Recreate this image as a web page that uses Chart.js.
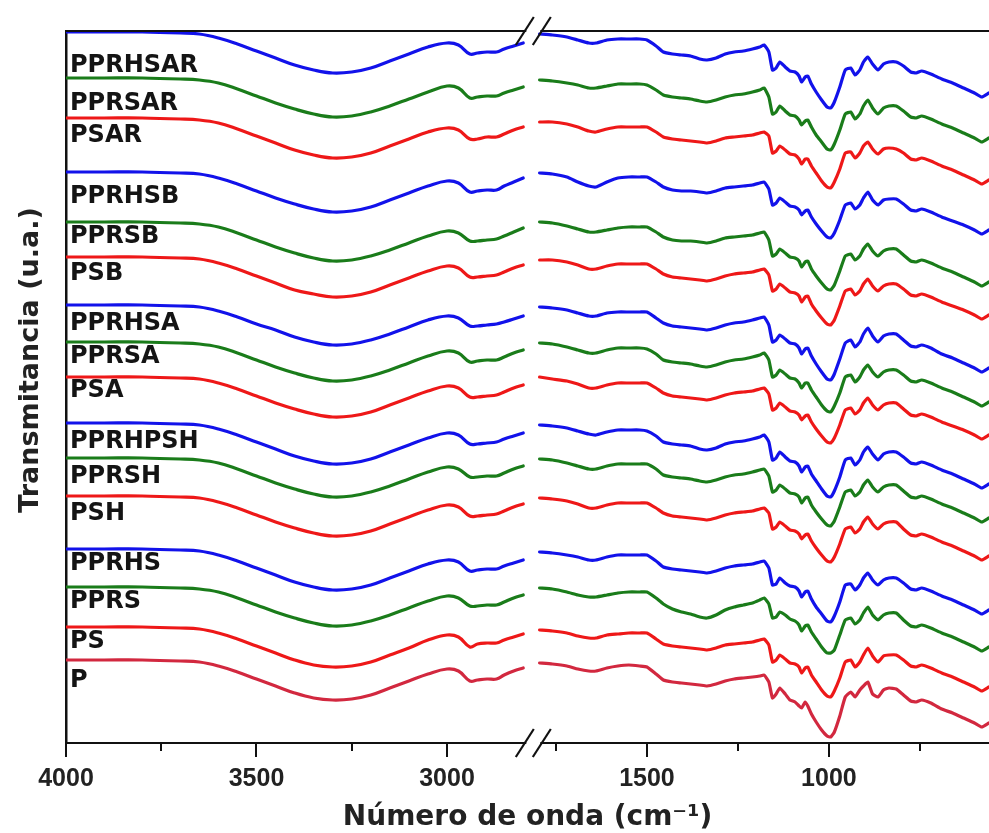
<!DOCTYPE html>
<html>
<head>
<meta charset="utf-8">
<title>Espectros FTIR</title>
<script src="https://cdn.jsdelivr.net/npm/chart.js@4.4.1/dist/chart.umd.min.js"></script>
<style>
  html, body { margin: 0; padding: 0; background: #fff; }
  #wrap { position: relative; width: 989px; height: 833px; }
</style>
</head>
<body>
<div id="wrap"><canvas id="c" width="989" height="833"></canvas></div>
<script>
// Wavenumbers (cm-1) of the two recorded windows
const waveLeft = [4000,3900,3800,3700,3650,3600,3550,3500,3450,3400,3350,3300,3250,3200,3150,3100,3050,3000,2970,2940,2920,2895,2870,2850,2825,2800];
const waveRight = [1795,1760,1720,1690,1660,1640,1610,1580,1550,1520,1500,1475,1455,1430,1405,1380,1355,1335,1310,1285,1260,1235,1210,1190,1178,1165,1155,1145,1135,1120,1107,1093,1082,1075,1065,1058,1048,1035,1020,1005,995,985,970,955,940,928,915,905,893,880,865,850,835,815,795,775,760,745,720,690,660,630,600,580,560];

// Transmittance (a.u.) of each sample: left window followed by right window
const PPRHSAR = [100,100,100,99,98,94,88,81,74,67,62,59,60,64,71,78,85,89,87,78,79,80,80,83,86,89,
  98,97,95,92,89,89,92,93,93,93,92,86,80,78,77,76,73,72,74,78,80,81,83,85,87,80,62,64,70,65,61,60,56,50,55,56,48,40,32,25,24,30,45,62,64,57,62,70,75,68,62,68,70,70,66,60,59,61,58,53,49,44,39,35,39];
const PPRSAR = [100,100,100,99,98,95,89,82,75,69,64,61,62,66,72,79,86,92,90,80,81,82,82,85,88,91,
  98,97,95,93,90,90,92,94,94,94,93,88,83,81,80,79,77,76,78,81,83,84,86,88,90,81,64,66,72,67,63,62,58,53,57,58,51,43,36,29,28,34,48,64,66,59,64,72,78,70,64,70,72,72,67,61,60,62,59,54,50,45,40,36,40];
const PSAR = [100,100,100,99,98,95,89,82,75,68,63,60,61,65,72,79,86,90,88,79,79,81,81,84,88,91,
  96,96,94,91,87,86,89,91,91,91,91,86,81,79,78,77,76,75,77,80,81,82,83,85,86,82,65,67,72,68,64,63,59,54,59,59,52,45,37,31,30,36,49,65,66,60,65,72,76,69,64,69,70,69,65,59,58,60,57,52,48,43,38,34,38];
const PPRHSB = [100,100,100,99,98,94,88,81,74,68,63,60,61,65,72,79,86,91,89,80,81,82,82,86,90,94,
  99,98,95,90,86,85,90,94,95,95,95,90,85,82,81,81,80,79,81,84,85,86,87,89,90,83,67,69,74,70,66,65,62,57,61,62,55,48,41,35,34,39,52,67,69,63,67,74,80,72,67,72,73,73,68,62,61,63,60,55,51,47,42,38,42];
const PPRSB = [100,100,100,99,98,95,89,82,75,69,64,61,62,66,72,79,86,91,89,81,81,82,83,86,90,94,
  100,99,96,93,90,90,92,94,95,95,95,90,85,82,81,81,80,79,81,84,85,86,87,89,90,82,66,68,73,69,65,64,61,55,60,61,53,46,39,33,32,37,51,66,68,62,66,73,78,71,66,71,73,73,67,61,60,62,59,54,50,45,40,36,40];
const PSB = [100,100,100,99,98,94,88,81,74,67,63,60,61,65,72,79,86,91,89,80,80,81,82,85,89,92,
  97,97,95,92,88,88,91,93,93,93,93,88,83,80,79,78,77,76,78,81,83,84,85,87,88,82,66,68,73,69,65,64,61,55,60,61,53,46,39,33,32,37,51,66,68,62,66,73,78,71,66,71,73,73,68,62,61,63,60,55,51,47,42,38,42];
const PPRHSA = [100,100,100,99,98,94,88,81,75,68,63,60,61,65,71,78,85,89,87,79,79,80,81,83,86,89,
  98,97,95,92,89,89,92,93,93,93,93,87,82,79,78,77,76,75,77,80,82,83,85,87,88,80,63,65,70,66,62,61,57,51,56,57,49,41,33,26,25,31,46,62,65,58,63,71,77,69,63,69,71,71,65,59,58,60,57,51,47,42,37,33,37];
const PPRSA = [100,100,100,99,98,95,89,82,75,69,64,61,62,66,72,79,86,91,89,80,81,82,82,85,89,92,
  99,98,95,92,89,89,92,94,94,94,93,88,82,80,79,78,76,75,77,80,82,83,85,87,89,82,65,67,72,68,64,63,59,54,59,59,52,45,37,31,30,36,49,65,67,60,65,72,77,70,65,70,72,72,67,61,60,62,59,54,50,45,40,36,40];
const PSA = [100,100,100,99,98,94,88,81,74,68,63,60,61,65,72,79,86,91,89,80,80,81,82,85,89,92,
  100,98,96,93,89,89,92,94,94,94,94,89,84,81,80,79,78,77,79,82,84,85,86,88,89,83,67,69,74,70,66,65,62,57,61,62,55,48,41,35,34,39,52,67,69,63,67,74,79,72,67,72,74,74,68,62,61,63,60,55,51,47,42,38,42];
const PPRHPSH = [100,100,100,99,98,94,88,81,74,67,62,59,60,64,71,78,85,90,88,79,79,80,81,84,87,90,
  98,97,95,92,89,88,91,93,93,93,92,87,81,79,78,77,74,73,75,79,81,82,84,86,88,81,63,65,71,66,62,61,57,51,56,57,49,42,34,27,26,32,46,63,65,58,63,71,76,69,63,69,71,71,66,60,59,61,58,53,49,44,39,35,39];
const PPRSH = [100,100,100,99,98,95,89,82,75,69,64,61,62,66,72,79,86,91,89,81,81,82,82,85,89,92,
  99,98,95,92,89,89,92,94,94,94,94,89,83,81,80,79,77,76,78,81,83,84,86,88,89,82,66,68,73,69,65,64,61,55,60,61,53,46,39,33,32,37,51,66,68,62,66,73,78,71,66,71,73,73,67,61,60,62,59,54,50,45,40,36,40];
const PSH = [100,100,100,99,98,94,88,81,74,68,63,60,61,65,72,79,86,91,89,80,80,81,82,85,89,92,
  98,97,95,92,88,88,91,93,93,93,93,88,83,80,79,78,77,76,78,81,83,84,85,87,88,83,67,69,74,70,66,65,62,57,61,62,55,48,41,35,34,39,52,67,69,63,67,74,79,72,67,72,74,74,67,61,60,62,59,54,50,45,40,36,40];
const PPRHS = [100,100,100,99,98,94,88,81,74,67,62,59,60,64,71,78,85,89,87,78,79,80,80,83,86,89,
  97,96,94,92,89,89,92,94,94,94,94,88,82,80,79,78,77,76,78,81,83,84,85,87,88,81,64,65,71,66,63,62,58,52,57,58,50,42,35,28,27,33,47,64,65,59,64,71,76,69,64,69,71,71,66,60,59,61,58,53,49,44,39,35,39];
const PPRS = [100,100,100,99,98,95,89,82,75,69,64,61,62,66,72,79,86,91,89,81,81,82,82,85,89,92,
  99,98,95,92,90,90,92,94,95,95,95,89,83,78,75,73,70,69,72,77,80,82,84,87,89,83,69,70,75,72,68,66,62,56,61,62,55,48,40,34,34,37,52,67,69,63,67,74,80,72,67,72,74,74,67,61,60,62,59,54,50,45,40,36,40];
const PS = [100,100,100,99,98,94,88,81,74,67,62,60,61,65,72,79,87,92,90,80,83,84,84,87,90,93,
  97,96,94,91,89,89,92,93,94,94,94,88,83,81,80,79,78,77,79,82,83,84,85,87,88,82,65,67,72,68,64,63,60,54,59,60,52,45,37,31,30,36,49,65,67,60,65,72,79,71,65,71,72,72,67,61,60,62,59,54,50,45,40,36,40];
const P = [100,100,100,99,98,94,88,81,74,67,62,60,61,65,72,79,86,91,89,79,80,81,81,85,89,92,
  97,96,94,91,89,89,92,94,95,94,93,86,80,78,77,76,75,74,76,79,81,82,83,84,85,78,62,66,72,66,60,58,54,52,58,54,46,38,30,24,23,28,44,63,68,63,70,74,78,66,63,70,72,71,65,59,58,60,57,51,47,42,37,33,37];

const seriesNames = ['PPRHSAR','PPRSAR','PSAR','PPRHSB','PPRSB','PSB','PPRHSA','PPRSA','PSA','PPRHPSH','PPRSH','PSH','PPRHS','PPRS','PS','P'];
const seriesValues = [PPRHSAR,PPRSAR,PSAR,PPRHSB,PPRSB,PSB,PPRHSA,PPRSA,PSA,PPRHPSH,PPRSH,PSH,PPRHS,PPRS,PS,P];
// vertical shift applied to each spectrum when stacking
const stackOffsets = [611,565,525,471,421,386,338,301,266,220,185,147,94,56,16,-17];
// height (axis units) of each sample name
const labelLevels = [671,633,601,540,500,463,413,380,346,295,260,223,173,135,95,56];

const tickValues = [4000,3500,3000,1500,1000];
const tickLabels = ['4000','3500','3000','1500','1000'];
const minorTickValues = [3750,3250,1750,1250,750];
const xTitle = 'Número de onda (cm⁻¹)';
const yTitle = 'Transmitancia (u.a.)';

const BLUE = '#1212ea', GREEN = '#1a7c1a', RED = '#ee1818', CRIMSON = '#d2283f';
const seriesColors = [BLUE,GREEN,RED,BLUE,GREEN,RED,BLUE,GREEN,RED,BLUE,GREEN,RED,BLUE,GREEN,RED,CRIMSON];

// Broken wavenumber axis: two windows placed side by side
const axisSegments = [
  { from: 4000, to: 2790, start: 0, end: 461 / 923 },
  { from: 1795, to: 560, start: 473.6 / 923, end: 1 }
];

class BrokenAxis extends Chart.LinearScale {
  buildTicks() {
    return tickValues.map(v => ({ value: v }));
  }
  toDecimal(value) {
    const [a, b] = axisSegments;
    if (value >= a.to) return a.start + (a.from - value) / (a.from - a.to) * (a.end - a.start);
    if (value <= b.from) return b.start + (b.from - value) / (b.from - b.to) * (b.end - b.start);
    return a.end + (a.to - value) / (a.to - b.from) * (b.start - a.end);
  }
  getPixelForValue(value) {
    return this.getPixelForDecimal(this.toDecimal(value));
  }
  getValueForPixel(pixel) {
    const d = this.getDecimalForPixel(pixel);
    const [a, b] = axisSegments;
    if (d <= a.end) return a.from - (d - a.start) / (a.end - a.start) * (a.from - a.to);
    if (d >= b.start) return b.from - (d - b.start) / (b.end - b.start) * (b.from - b.to);
    return a.to - (d - a.end) / (b.start - a.end) * (a.to - b.from);
  }
}
BrokenAxis.id = 'brokenAxis';
BrokenAxis.defaults = {};
Chart.register(BrokenAxis);

const datasets = [];
seriesValues.forEach((vals, i) => {
  const nL = waveLeft.length;
  const common = { borderColor: seriesColors[i], borderWidth: 3.2, pointRadius: 0, fill: false };
  datasets.push(Object.assign({ label: seriesNames[i], tension: 0.4,
    data: waveLeft.map((w, j) => ({ x: w, y: stackOffsets[i] + vals[j] })) }, common));
  datasets.push(Object.assign({ label: seriesNames[i], tension: 0.15,
    data: waveRight.map((w, j) => ({ x: w, y: stackOffsets[i] + vals[nL + j] })) }, common));
});

const frame = {
  id: 'frame',
  beforeDatasetsDraw(chart) {
    const { ctx, chartArea: a, scales: { x } } = chart;
    const xc = (x.getPixelForValue(2790) + x.getPixelForValue(1795)) / 2;
    ctx.save();
    ctx.fillStyle = '#fff';
    [a.top, a.bottom].forEach(yy => ctx.fillRect(xc - 7, yy - 2, 14, 4));
    ctx.restore();
  },
  afterDraw(chart) {
    const { ctx, chartArea: a, scales: { x, y } } = chart;
    ctx.save();
    ctx.strokeStyle = '#111';
    ctx.lineWidth = 2;
    // top frame line
    const xc = (x.getPixelForValue(2790) + x.getPixelForValue(1795)) / 2;
    ctx.beginPath();
    ctx.moveTo(a.left, a.top); ctx.lineTo(xc - 7, a.top);
    ctx.moveTo(xc + 7, a.top); ctx.lineTo(a.right, a.top);
    ctx.stroke();
    // minor ticks
    ctx.beginPath();
    minorTickValues.forEach(v => {
      const px = Math.round(x.getPixelForValue(v));
      ctx.moveTo(px, a.bottom); ctx.lineTo(px, a.bottom + 8);
    });
    ctx.stroke();
    // axis break marks
    ctx.lineWidth = 2.2;
    [a.top, a.bottom].forEach(yy => {
      [-8.5, 8.5].forEach(dx => {
        ctx.beginPath();
        ctx.moveTo(xc + dx - 9, yy + 14);
        ctx.lineTo(xc + dx + 9, yy - 14);
        ctx.stroke();
      });
    });
    // sample names
    ctx.fillStyle = '#141414';
    ctx.font = 'bold 24px "DejaVu Sans"';
    ctx.textAlign = 'left';
    ctx.textBaseline = 'alphabetic';
    seriesNames.forEach((name, i) => {
      ctx.fillText(name, a.left + 4, y.getPixelForValue(labelLevels[i]));
    });
    // y-axis title
    ctx.translate(31, (a.top + a.bottom) / 2 - 27);
    ctx.rotate(-Math.PI / 2);
    ctx.font = 'bold 27px "DejaVu Sans"';
    ctx.textAlign = 'center';
    ctx.textBaseline = 'middle';
    ctx.fillStyle = '#222';
    ctx.fillText(yTitle, 0, 0);
    ctx.restore();
  }
};

new Chart(document.getElementById('c'), {
  type: 'line',
  data: { datasets },
  options: {
    responsive: false,
    devicePixelRatio: 1,
    animation: false,
    events: [],
    layout: { padding: { top: 31, right: 0, bottom: 0, left: 0 } },
    plugins: { legend: { display: false }, tooltip: { enabled: false } },
    elements: { line: { borderCapStyle: 'round', borderJoinStyle: 'round' } },
    scales: {
      x: {
        type: 'brokenAxis',
        min: 560,
        max: 4000,
        afterFit: s => { s.height = 90; },
        grid: { display: true, drawOnChartArea: false, drawTicks: true, tickLength: 14, color: '#111', lineWidth: 2 },
        border: { display: true, color: '#111', width: 2 },
        ticks: {
          autoSkip: false, maxRotation: 0, minRotation: 0, padding: 7, color: '#222',
          font: { family: 'Liberation Sans', size: 25, weight: 'bold' },
          callback: (v, i) => tickLabels[i]
        },
        title: {
          display: true, text: xTitle, color: '#222',
          font: { family: 'DejaVu Sans', size: 28, weight: 'bold', lineHeight: 1.1 },
          padding: { top: 0, bottom: 0 }
        }
      },
      y: {
        type: 'linear',
        min: 0,
        max: 712,
        afterFit: s => { s.width = 66; },
        grid: { display: false },
        border: { display: true, color: '#111', width: 2.5 },
        ticks: { display: false }
      }
    }
  },
  plugins: [frame]
});
</script>
</body>
</html>
